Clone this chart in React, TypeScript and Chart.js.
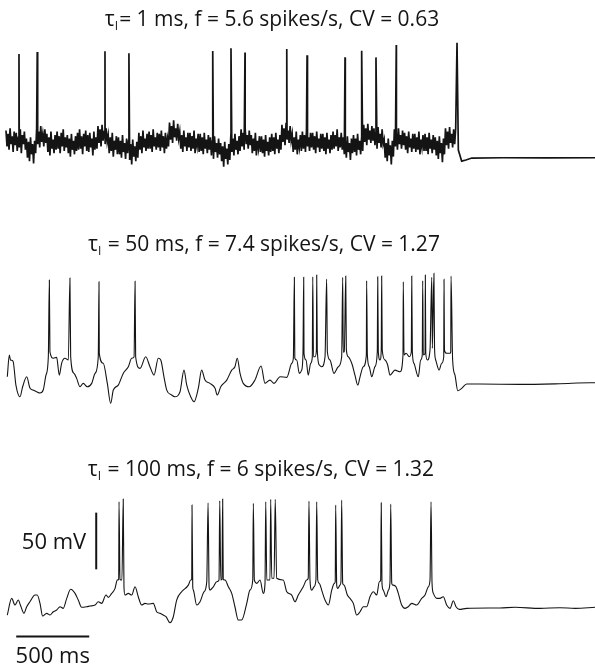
import { useEffect, useRef } from "react";
import { Chart, registerables } from "chart.js";

Chart.register(...registerables);

// ---------- data (time in ms, membrane potential in mV) ----------
const REST_MV = -70;

// Trace 1 (tau_I = 1 ms): potential sampled every 7 ms during the stimulus
const T1_DT_MS = 7;
const T1_NOISE_MV = [
  -46, -60, -49, -63, -44, -58, -51, -65, -47, -59,
  -48, -64, -52, -61, -45, -66, -50, -58, -47, -63,
  -53, -70, -56, -73, -52, -67, -58, -75, -55, -66,
  -44, -58, -47, -61, -42, -56, -49, -60, -45, -57,
  -49, -65, -52, -68, -47, -62, -54, -66, -50, -63,
  -47, -62, -51, -66, -48, -60, -45, -64, -52, -61,
  -50, -66, -53, -69, -49, -63, -55, -67, -51, -64,
  -48, -63, -45, -62, -51, -67, -49, -60, -46, -64,
  -50, -65, -48, -61, -53, -68, -47, -63, -52, -62,
  -42, -57, -45, -60, -41, -55, -47, -58, -44, -56,
  -50, -66, -52, -64, -48, -69, -55, -63, -51, -67,
  -52, -67, -55, -70, -50, -65, -57, -71, -53, -66,
  -55, -72, -58, -76, -54, -69, -60, -73, -56, -70,
  -48, -63, -51, -66, -46, -61, -53, -64, -49, -62,
  -47, -62, -50, -65, -45, -60, -52, -63, -48, -61,
  -49, -64, -46, -61, -51, -66, -48, -62, -53, -60,
  -39, -54, -42, -57, -37, -52, -44, -55, -40, -53,
  -47, -62, -50, -65, -46, -60, -52, -64, -48, -61,
  -48, -64, -51, -62, -46, -66, -53, -60, -49, -65,
  -49, -64, -52, -67, -48, -62, -54, -66, -50, -63,
  -52, -68, -55, -71, -51, -65, -57, -70, -53, -67,
  -57, -73, -60, -78, -56, -71, -62, -76, -58, -72,
  -50, -65, -53, -68, -49, -63, -55, -67, -51, -64,
  -45, -60, -48, -63, -44, -58, -50, -62, -46, -59,
  -50, -66, -53, -64, -48, -68, -55, -62, -51, -65,
  -51, -66, -54, -69, -50, -64, -56, -68, -52, -65,
  -49, -64, -52, -67, -48, -62, -54, -66, -50, -63,
  -41, -56, -44, -59, -40, -54, -46, -57, -42, -55,
  -49, -65, -52, -63, -47, -67, -54, -61, -50, -64,
  -47, -62, -50, -65, -46, -60, -52, -64, -48, -61,
  -48, -63, -51, -66, -47, -61, -53, -65, -49, -62,
  -49, -64, -52, -67, -48, -62, -54, -66, -50, -63,
  -47, -62, -50, -60, -45, -64, -52, -61, -48, -63,
  -52, -67, -55, -70, -51, -65, -57, -72, -53, -66,
  -50, -65, -53, -68, -49, -63, -55, -67, -51, -64,
  -41, -56, -44, -59, -40, -54, -46, -57, -42, -55,
  -44, -59, -47, -62, -43, -57, -49, -61, -45, -58,
  -54, -70, -57, -73, -53, -68, -59, -76, -55, -69,
  -45, -60, -48, -63, -44, -58, -50, -62, -46, -59,
  -48, -63, -51, -66, -47, -61, -53, -65, -49, -62,
  -49, -65, -52, -63, -47, -67, -54, -61, -50, -64,
  -49, -64, -52, -67, -48, -62, -54, -66, -50, -63,
  -52, -68, -55, -71, -51, -66, -57, -74, -53, -67,
  -44, -59, -47, -62, -43, -57, -49, -61, -45, -58,
  -44,
];
const T1_SPIKE_MS = [89, 214, 678, 842, 1416, 1541, 1637, 1923, 2062, 2322, 2436, 2534, 2673, 3089];
const T1_SPIKE_PEAK_MV = [21.4, 23.2, 23.8, 22.1, 24.1, 26.5, 22.9, 25.9, 20.3, 18.5, 24.4, 18.5, 29.4, 31.4];
const T1_TAIL_MS = [3098, 3121, 3150, 3190, 3400, 3700, 4034];
const T1_TAIL_MV = [-63.2, -73, -72, -70.3, -70, -70.2, -70];

// Trace 2 (tau_I = 50 ms): [ms, mV]
const TRACE2: [number, number][] = [
  [9, -63.6], [23, -44.4], [31, -48.8], [48, -49.7], [68, -70.9], [96, -81.2], [114, -72.4], [142, -63.6],
  [164, -73.5], [185, -75.3], [210, -76.8], [233, -77.9], [255, -75.3], [274, -62.1], [290, -45.9], [297, 21.7],
  [301, -41.5], [324, -47.3], [347, -46.5], [365, -62.1], [381, -51.7], [404, -47.3], [427, -48.8], [438, 23.5],
  [443, -45.9], [466, -60.6], [484, -65], [507, -72.4], [529, -69.4], [557, -72.4], [587, -69.4], [610, -60.6],
  [632, -45.9], [637, 20.2], [639, -42.9], [666, -51.7], [694, -69.4], [717, -87], [735, -75.3], [769, -70.9],
  [803, -60.6], [838, -54.7], [861, -47.3], [877, -46.2], [884, 20.6], [888, -45.9], [918, -56.2], [957, -45.9],
  [986, -54.7], [1014, -62.1], [1043, -47.3], [1060, -48.8], [1082, -63.6], [1101, -75.3], [1135, -79.7], [1157, -81.2],
  [1192, -76.8], [1219, -57.7], [1238, -70.9], [1265, -81.2], [1288, -85.6], [1317, -73.8], [1340, -57.7], [1363, -66.5],
  [1397, -69.4], [1432, -73.8], [1447, -79.7], [1471, -72.4], [1512, -66.5], [1546, -57.7], [1568, -54.7], [1584, -47.3],
  [1603, -60.6], [1625, -69.4], [1666, -72.4], [1705, -66.5], [1747, -54.1], [1774, -69.4], [1808, -66.5], [1836, -69.4],
  [1877, -63.6], [1923, -64.1], [1957, -51.7], [1968, -47.3], [1975, 24.1], [1978, -47.1], [1991, -48.8], [2009, -60.6],
  [2025, -57.7], [2034, -42.9], [2039, 24.1], [2041, -42.9], [2055, -48.8], [2070, -62.1], [2087, -51.7], [2098, -45.9],
  [2101, 24.6], [2106, -45.9], [2117, -45.9], [2126, -40], [2128, 26.1], [2132, -40], [2146, -53.2], [2162, -54.7],
  [2185, -45.9], [2196, 22.6], [2201, -41.5], [2219, -48.8], [2246, -60.6], [2276, -54.7], [2299, -45.9], [2306, 24.1],
  [2310, -41.8], [2317, -41.5], [2327, 25.2], [2331, -39.4], [2344, -45.9], [2368, -51.7], [2390, -62.1], [2409, -70.9],
  [2425, -63.6], [2447, -54.7], [2468, -44.4], [2470, 21.1], [2475, -44.4], [2488, -54.7], [2505, -63.6], [2527, -54.7],
  [2543, -41.5], [2546, 24.6], [2550, -41.5], [2562, -48.8], [2570, -40], [2573, 25.2], [2577, -40], [2596, -48.8],
  [2614, -53.2], [2630, -62.1], [2664, -57.7], [2699, -59.2], [2719, -44.4], [2721, 20.2], [2726, -44.4], [2740, -42.9],
  [2762, -45.9], [2776, -41.5], [2779, 25.2], [2783, -41.5], [2794, -51.7], [2824, -63.6], [2840, -48.8], [2851, -44.4],
  [2854, 21.1], [2858, -44.4], [2870, -42.9], [2872, 26.1], [2875, -42.9], [2886, -48.8], [2904, -40], [2916, 24.1],
  [2920, -38.5], [2931, 27.6], [2935, -38.3], [2943, -48.8], [2966, -57.7], [2984, -51.7], [2998, -45.9], [3000, 22.3],
  [3003, -40], [3018, -42.9], [3041, -42.9], [3046, -41.8], [3048, 25.2], [3059, -48.8], [3075, -62.1], [3094, -75.9],
  [3121, -73.8], [3155, -70], [3246, -70], [3520, -70.3], [3794, -69.7], [4000, -68.9], [4034, -68.9],
];

// Trace 3 (tau_I = 100 ms): [ms, mV]
const TRACE3: [number, number][] = [
  [9, -75.9], [39, -61.2], [62, -67.1], [84, -62.7], [101, -68], [123, -74.4], [142, -68.6], [164, -64.2],
  [199, -58.3], [214, -58.3], [233, -65.6], [251, -76.8], [279, -74.4], [301, -75.9], [324, -73], [347, -71.5],
  [370, -68.6], [392, -70], [416, -61.2], [443, -53.2], [473, -56.8], [495, -62.7], [518, -69.1], [553, -68.6],
  [575, -68], [610, -67.1], [632, -64.2], [655, -65.6], [685, -58.3], [701, -60.3], [724, -56.8], [747, -52.4],
  [762, -45], [772, -44.4], [774, 24], [781, -44.4], [794, -45], [803, 26.4], [808, -51], [815, -58.3],
  [838, -56.8], [861, -58.3], [884, -51], [906, -59.8], [929, -67.1], [952, -65.6], [975, -66.2], [1009, -65.6],
  [1032, -73], [1055, -74.4], [1077, -75.9], [1096, -77.4], [1123, -82.7], [1146, -77.4], [1169, -62.7], [1203, -55.4],
  [1249, -49.5], [1265, -45], [1272, -44.4], [1274, 21.1], [1279, -51], [1283, -53.9], [1306, -67.1], [1329, -64.2],
  [1356, -55.4], [1375, -46.5], [1384, 23.1], [1391, -51], [1397, -53.9], [1420, -51], [1443, -46.5], [1459, -45],
  [1464, 24.9], [1471, -45], [1479, -44.4], [1484, 26.4], [1488, -44.4], [1500, -45], [1523, -51], [1546, -56.8],
  [1568, -68.6], [1591, -80.3], [1614, -80.3], [1649, -65.6], [1671, -53.9], [1690, -45], [1694, 22.6], [1701, -45],
  [1717, -48], [1740, -45], [1762, -56.8], [1774, -48], [1779, 24], [1786, -45], [1797, -45], [1808, -45],
  [1813, 26.1], [1820, -43.5], [1836, -43.5], [1844, 26.1], [1854, -43.5], [1899, -45], [1923, -55.4], [1957, -58.3],
  [1979, -64.2], [2002, -58.3], [2036, -51], [2059, -45], [2070, -43.5], [2075, 24.6], [2082, -45], [2094, -53.9],
  [2110, -51], [2123, -44.4], [2128, 24], [2135, -45], [2146, -48], [2162, -53.9], [2185, -62.7], [2208, -67.1],
  [2231, -53.9], [2249, -48], [2255, -46.5], [2258, 21.1], [2265, -49.5], [2272, -52.4], [2288, -49.5], [2294, -46.5],
  [2299, 25.5], [2306, -48], [2315, -49.5], [2338, -58.3], [2356, -61.2], [2379, -65.6], [2402, -75.9], [2425, -73],
  [2447, -68.6], [2470, -68.6], [2493, -59.8], [2516, -55.4], [2539, -58.3], [2557, -46.5], [2566, -45], [2570, 23.1],
  [2575, -48], [2584, -53.9], [2603, -59.8], [2619, -53.9], [2630, -46.5], [2635, 22], [2642, -48], [2649, -49.5],
  [2671, -51], [2687, -56.8], [2710, -67.1], [2733, -70], [2755, -68.6], [2779, -65.6], [2813, -67.1], [2847, -61.2],
  [2870, -58.3], [2892, -51], [2904, -45], [2911, 24], [2918, -48], [2927, -56.8], [2950, -61.2], [2972, -61.2],
  [2995, -59.8], [3018, -67.1], [3041, -70], [3064, -63.3], [3082, -68.6], [3105, -70.9], [3155, -70], [3383, -69.7],
  [3486, -69.1], [3657, -70], [3794, -69.5], [3897, -70], [4034, -69.1],
];

const TITLES = [
  "= 1 ms, f = 5.6 spikes/s, CV = 0.63",
  " = 50 ms, f = 7.4 spikes/s, CV = 1.27",
  " = 100 ms, f = 6 spikes/s, CV = 1.32",
];
const SCALE_MS = 500;
const SCALE_MV = 50;

// ---------- layout (display only) ----------
const W = 595;
const H = 669;
const X_MIN = -41;
const X_MAX = 4034;
const Y_MIN = 0;
const Y_MAX = 590;
const TRACE_OFFSETS = [520.9, 321.3, 123.5]; // vertical stacking of the three traces
const TITLE_CX = [272, 264, 261];
const TITLE_BASE = [26, 251, 476];
const HBAR_T0 = 70;
const HBAR_Y = 28.7;
const VBAR_T = 618;
const VBAR_Y0 = 87.9;
const TITLE_FONT = '21px "Open Sans"';
const SUB_FONT = '12px "Open Sans"';
const LABEL_FONT = '22px "Open Sans"';
const INK = "#141414";

function buildTrace1() {
  const pts: { x: number; y: number }[] = [];
  T1_NOISE_MV.forEach((v, i) => pts.push({ x: i * T1_DT_MS, y: v }));
  T1_SPIKE_MS.forEach((t, i) => pts.push({ x: t, y: T1_SPIKE_PEAK_MV[i] }));
  T1_TAIL_MS.forEach((t, i) => pts.push({ x: t, y: T1_TAIL_MV[i] }));
  pts.sort((a, b) => a.x - b.x);
  return pts.map((p) => ({ x: p.x, y: p.y + TRACE_OFFSETS[0] }));
}

function fromPairs(pairs: [number, number][], off: number) {
  return pairs.map(([t, v]) => ({ x: t, y: v + off }));
}

const annotPlugin = {
  id: "annot",
  afterDatasetsDraw(chart: any) {
    const ctx = chart.ctx as CanvasRenderingContext2D;
    const xs = chart.scales.x;
    const ys = chart.scales.y;
    ctx.save();
    ctx.fillStyle = INK;
    ctx.textBaseline = "alphabetic";
    ctx.textAlign = "left";
    TITLES.forEach((rest, i) => {
      ctx.font = TITLE_FONT;
      const w1 = ctx.measureText("τ").width;
      const w3 = ctx.measureText(rest).width;
      ctx.font = SUB_FONT;
      const w2 = ctx.measureText("I").width + 1;
      let x = TITLE_CX[i] - (w1 + w2 + w3) / 2;
      const by = TITLE_BASE[i];
      ctx.font = TITLE_FONT;
      ctx.fillText("τ", x, by);
      x += w1;
      ctx.font = SUB_FONT;
      ctx.fillText("I", x, by + 4);
      x += w2;
      ctx.font = TITLE_FONT;
      ctx.fillText(rest, x, by);
    });
    ctx.font = LABEL_FONT;
    const vx = xs.getPixelForValue(VBAR_T);
    const vyMid = ys.getPixelForValue(VBAR_Y0 + SCALE_MV / 2);
    ctx.textAlign = "right";
    ctx.fillText(`${SCALE_MV} mV`, vx - 10, vyMid + 8);
    const hx = xs.getPixelForValue(HBAR_T0 + SCALE_MS / 2);
    const hy = ys.getPixelForValue(HBAR_Y);
    ctx.textAlign = "center";
    ctx.fillText(`${SCALE_MS} ms`, hx, hy + 27);
    ctx.restore();
  },
};

export default function App() {
  const ref = useRef<HTMLCanvasElement>(null);
  useEffect(() => {
    const canvas = ref.current;
    if (!canvas) return;
    const traceStyle = {
      showLine: true,
      pointRadius: 0,
      borderColor: INK,
      tension: 0,
      fill: false,
    };
    const smooth = { cubicInterpolationMode: "monotone" };
    const chart = new Chart(canvas, {
      type: "scatter",
      data: {
        datasets: [
          { ...traceStyle, data: buildTrace1(), borderWidth: 1.7 },
          { ...traceStyle, ...smooth, data: fromPairs(TRACE2, TRACE_OFFSETS[1]), borderWidth: 1.1 },
          { ...traceStyle, ...smooth, data: fromPairs(TRACE3, TRACE_OFFSETS[2]), borderWidth: 1.1 },
          {
            ...traceStyle,
            borderWidth: 2,
            data: [
              { x: HBAR_T0, y: HBAR_Y },
              { x: HBAR_T0 + SCALE_MS, y: HBAR_Y },
            ],
          },
          {
            ...traceStyle,
            borderWidth: 2,
            data: [
              { x: VBAR_T, y: VBAR_Y0 },
              { x: VBAR_T, y: VBAR_Y0 + SCALE_MV },
            ],
          },
        ],
      },
      options: {
        responsive: false,
        animation: false,
        devicePixelRatio: 1,
        layout: { padding: 0 },
        plugins: {
          legend: { display: false },
          tooltip: { enabled: false },
          title: { display: false },
        },
        scales: {
          x: { type: "linear", min: X_MIN, max: X_MAX, display: false },
          y: { type: "linear", min: Y_MIN, max: Y_MAX, display: false },
        },
      },
      plugins: [annotPlugin],
    } as any);
    return () => chart.destroy();
  }, []);
  return (
    <div style={{ position: "absolute", left: 0, top: 0, width: W, height: H, background: "#fff" }}>
      <canvas ref={ref} width={W} height={H} style={{ display: "block", width: W, height: H }} />
    </div>
  );
}
